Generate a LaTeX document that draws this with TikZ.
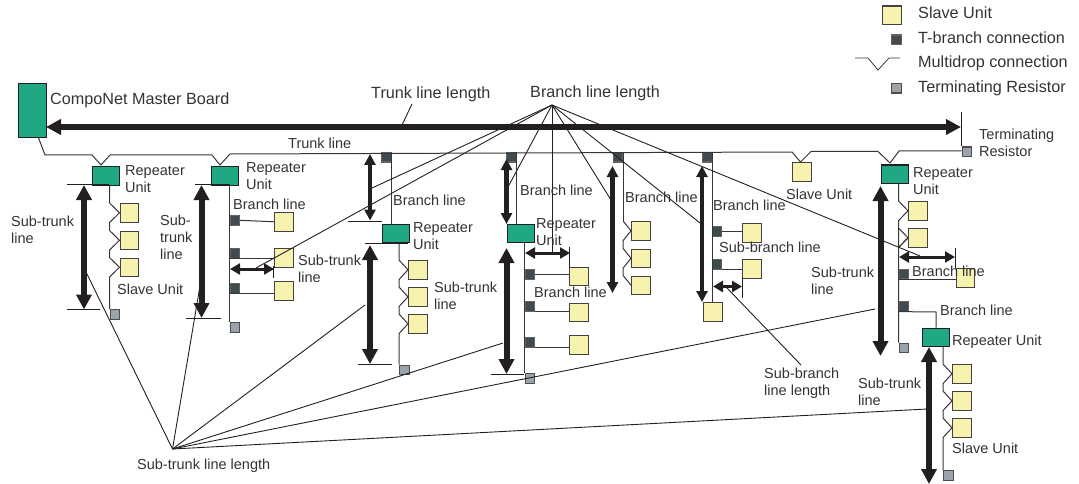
\documentclass[tikz,border=0pt]{standalone}
\usepackage{fontspec}
\setmainfont{Liberation Sans}
\usetikzlibrary{arrows.meta}
\definecolor{slavefill}{HTML}{F7F2AE}
\definecolor{repfill}{HTML}{1FA883}
\definecolor{tfill}{HTML}{3F4B4E}
\definecolor{termfill}{HTML}{9AA3AB}
\definecolor{ink}{HTML}{231F20}
\definecolor{txt}{HTML}{333333}
\tikzset{
  boxbase/.style={inner sep=0,anchor=north west,line width=1.1pt},
  slaveunit/.style={boxbase,draw=ink!85,fill=slavefill,minimum width=18.5pt,minimum height=18.5pt},
  repunit/.style={boxbase,draw=ink,fill=repfill,minimum width=27pt,minimum height=18.5pt},
  tconn/.style={boxbase,draw=ink!70,fill=tfill,minimum width=9.5pt,minimum height=9.5pt},
  termres/.style={boxbase,draw=ink!80,fill=termfill,minimum width=9.5pt,minimum height=9.5pt},
  bus/.style={draw=ink!90,line width=1pt,line join=miter},
  leader/.style={draw=ink,line width=.9pt},
  ticker/.style={draw=ink,line width=.9pt},
  lab/.style={inner sep=0,anchor=north west,align=left,text=txt,font=\fontsize{14.5}{17}\selectfont},
  labbig/.style={lab,font=\fontsize{16.2}{18}\selectfont},
  dimbig/.style={draw=ink,line width=6pt,{Triangle[length=15pt,width=15pt]}-{Triangle[length=15pt,width=15pt]}},
  dimmid/.style={draw=ink,line width=4.5pt,{Triangle[length=11pt,width=11pt]}-{Triangle[length=11pt,width=11pt]}},
  dimsmall/.style={draw=ink,line width=3pt,{Triangle[length=10pt,width=11pt]}-{Triangle[length=10pt,width=11pt]}},
}
\newcommand{\lab}[5][lab]{\node[#1] (#2) at (#3,#4-7) {\rule{0pt}{12pt}#5};}
\newcommand{\slv}[3]{\node[slaveunit] (#1) at (#2,#3) {};}
\newcommand{\rpt}[3]{\node[repunit] (#1) at (#2,#3) {};}
\newcommand{\tcn}[3]{\node[tconn] (#1) at (#2,#3) {};}
\newcommand{\trm}[3]{\node[termres] (#1) at (#2,#3) {};}
\newcommand{\dimv}[5]{\coordinate (#2a) at (#3,#4);\coordinate (#2b) at (#3,#5);\draw[#1] (#2a) -- (#2b);}
\newcommand{\dimh}[5]{\coordinate (#2a) at (#4,#3);\coordinate (#2b) at (#5,#3);\draw[#1] (#2a) -- (#2b);}
\newcommand{\tck}[5]{\coordinate (#1a) at (#2,#3);\coordinate (#1b) at (#4,#5);\draw[ticker] (#1a) -- (#1b);}
% zigzag: start, x reference, three slaves
\newcommand{\zig}[5]{\draw[bus] (#1) -- (#3.north -| #2) -- (#3.west) -- (#3.south -| #2) -- (#4.north -| #2) -- (#4.west) -- (#4.south -| #2) -- (#5.north -| #2) -- (#5.west);}
\begin{document}
\begin{tikzpicture}[x=1pt,y=-1pt]
\useasboundingbox (0,0) rectangle (1079,484);
% ---- nodes: units
\node[repunit,minimum width=27.5pt,minimum height=54pt] (MB) at (18,83) {};
\rpt{R1}{92}{166}\rpt{R2}{211}{166}\rpt{R3}{381.5}{223.5}\rpt{R4}{506.5}{223.5}\rpt{R5}{881}{164.5}\rpt{R6}{922}{327.5}
\trm{TE}{961.5}{146.5}
\slv{S1a}{119.5}{203}\slv{S1b}{119.5}{230.5}\slv{S1c}{119.5}{257.5}
\trm{TR1}{109.5}{309}
\tcn{T2a}{229.5}{215}\tcn{T2b}{229.5}{248}\tcn{T2c}{229.5}{283}
\slv{S2a}{274}{212}\slv{S2b}{274}{248}\slv{S2c}{274}{281}
\trm{TR2}{229.5}{322}
\tcn{T3}{381}{152}
\slv{S3a}{408}{260}\slv{S3b}{408}{287}\slv{S3c}{408}{314}
\trm{TR3}{399}{364.5}
\tcn{T4}{506}{152}
\tcn{T4a}{524.5}{269}\tcn{T4b}{524.5}{301}\tcn{T4c}{524.5}{337}
\slv{S4a}{569}{266.5}\slv{S4b}{569}{302.5}\slv{S4c}{569}{335}
\trm{TR4}{524.5}{373}
\tcn{T5}{612.5}{152}
\slv{S5a}{631}{221}\slv{S5b}{631}{248.5}\slv{S5c}{631}{275.5}
\tcn{T6}{702}{152}
\tcn{T6a}{711.5}{226}\tcn{T6b}{711.5}{259}
\slv{S6a}{742}{223}\slv{S6b}{742}{259}\slv{S6c}{703}{302}
\slv{SM}{792}{162}
\slv{S7a}{908}{201}\slv{S7b}{908}{228}
\tcn{T7a}{898.5}{268.5}\tcn{T7b}{898.5}{301}
\slv{S7c}{955.5}{268}
\trm{TR7}{898.5}{342.5}
\slv{S8a}{952}{364}\slv{S8b}{952}{391}\slv{S8c}{952}{418}
\trm{TR8}{943}{470}
% legend symbols
\slv{LS}{882}{5.5}
\tcn{LT}{891}{34.5}
\trm{LR}{891}{83}
% ---- connectors
\coordinate (V0a) at (45,155);\coordinate (V1b) at (101,165);\coordinate (V2b) at (220,165);
\coordinate (VMb) at (800.5,162);\coordinate (V5b) at (890,163);
\coordinate (TEl) at (961.5,151);
\draw[bus] (MB.south east) ++(-8,0) -- (V0a) -- (92,155) -- (V1b) -- (110,155) -- (212,155) -- (V2b) -- (230,154) -- (792,152) -- (VMb) -- (811,151.5) -- (878,151.5) -- (V5b) -- (899,151) -- (TEl);
\draw[bus] (T3.north east) -- (R3.north -| T3.east);
\draw[bus] (T4.north east) -- (R4.north -| T4.east);
\draw[bus] (T5.north east) -- (S5a.north -| T5.east);
\draw[bus] (T6.north east) -- (S6c.north -| T6.east);
% sub-trunks
\zig{R1.south -| TR1.west}{TR1.west}{S1a}{S1b}{S1c}
\draw[bus] (S1c.west) -- (S1c.south -| TR1.west) -- (TR1.north west);
\zig{R3.south -| TR3.west}{TR3.west}{S3a}{S3b}{S3c}
\draw[bus] (S3c.west) -- (S3c.south -| TR3.west) -- (TR3.north west);
\zig{S5a.north -| T5.east}{T5.east}{S5a}{S5b}{S5c}
\zig{R5.south -| TR7.west}{TR7.west}{S7a}{S7b}{S7b}
\draw[bus] (S7b.west) -- (S7b.south -| TR7.west) -- (TR7.north west);
\zig{R6.south -| TR8.west}{TR8.west}{S8a}{S8b}{S8c}
\draw[bus] (S8c.west) -- (S8c.south -| TR8.west) -- (TR8.north west);
\draw[bus] (R2.south -| TR2.west) -- (TR2.north west);
\draw[bus] (R4.south -| TR4.west) -- (TR4.north west);
% branches
\draw[bus] (T2a.east) -- (S2a.west);
\draw[bus] (T2b.south west) -- (S2b.west |- T2b.south);
\draw[bus] (T2c.south west) -- (S2c.west |- T2c.south);
\draw[bus] (T4a.east) -- (S4a.west |- T4a.east);
\draw[bus] (T4b.south east) -- (S4b.west |- T4b.south);
\draw[bus] (T4c.south east) -- (S4c.west |- T4c.south);
\draw[bus] (T6a.east) -- (S6a.west |- T6a.east);
\draw[bus] (T6b.south east) -- (S6b.west |- T6b.south);
\draw[bus] (T7a.south west) -- (S7c.west |- T7a.south);
\coordinate (J7) at (936,312);
\draw[bus] (T7b.south west) -- (J7) -- (J7 |- R6.north);
% ---- dimension arrows
\dimh{dimbig}{DT}{127}{46}{961}
\dimv{dimbig}{D1}{84}{185}{309.5}
\dimv{dimbig}{D2}{201.5}{185}{318}
\dimv{dimmid}{D3}{370}{154}{220.5}
\dimv{dimbig}{D3s}{370}{245}{364}
\dimv{dimmid}{D4}{506.5}{159}{224}
\dimv{dimbig}{D4s}{506.5}{248}{374}
\dimv{dimmid}{D5}{612.5}{166}{293}
\dimv{dimmid}{D6}{702}{166}{302}
\dimv{dimbig}{D7}{880.5}{186}{356}
\dimv{dimbig}{D8}{929}{347}{484}
\dimh{dimsmall}{H2}{269}{230}{274}
\dimh{dimsmall}{H4}{253}{525}{570}
\dimh{dimsmall}{H6}{286.5}{713}{742}
\dimh{dimsmall}{H7}{257}{899}{955}
% ---- ticks
\coordinate (TEt) at (961.5,112);
\draw[ticker] (TE.north west) -- (TEt);
\tck{K1t}{67}{184.5}{109}{184.5}
\tck{K1b}{67}{309}{100}{309}
\tck{K2t}{195}{184.5}{230}{184.5}
\tck{K2b}{186}{318.5}{221}{318.5}
\tck{K3a}{348}{221}{382}{221}
\tck{K3t}{365}{243}{408}{243}
\tck{K3b}{358}{364}{392}{364}
\tck{K4b}{491}{374}{524}{374}
\tck{K2h}{273.5}{266}{273.5}{278}
\tck{K4h}{569.5}{247}{569.5}{267}
\tck{K6h}{742.5}{277}{742.5}{298}
\tck{K7h}{955.5}{248}{955.5}{268}
% ---- leaders
\coordinate (AP) at (552,105);
\coordinate (AS) at (172.5,449);
\coordinate (AT) at (412,104);
\coordinate (ATb) at (402,125);
\draw[leader] (AT) -- (ATb);
\foreach \e in {{372,188},{256,268},{508,187},{552,253},{611,200},{700,223},{920,256}}
  \draw[leader] (AP) -- (\e);
\foreach \e in {{86,272},{201.5,277},{365,305},{503,343},{875,309},{927,409}}
  \draw[leader] (AS) -- (\e);
\coordinate (SBL) at (801,365);
\coordinate (SBLb) at (727,288);
\draw[leader] (SBL) -- (SBLb);
% ---- legend multidrop
\coordinate (Ma) at (855,58);\coordinate (Mb) at (900,58);
\draw[bus,line width=.8pt] (Ma) -- (868,58) -- (878,70) -- (889,58) -- (Mb);
% ---- texts
\lab[labbig]{tMB}{50}{99}{CompoNet Master Board}
\lab[labbig]{tTL}{371}{93}{Trunk line length}
\lab[labbig]{tBL}{530}{92}{Branch line length}
\lab{tTr}{288}{143}{Trunk line}
\lab[labbig]{tL1}{918}{13}{Slave Unit}
\lab[labbig]{tL2}{918}{38}{T-branch connection}
\lab[labbig]{tL3}{918}{62}{Multidrop connection}
\lab[labbig]{tL4}{918}{87}{Terminating Resistor}
\lab{tTE}{979}{134}{Terminating\\Resistor}
\lab{tR1}{125}{170}{Repeater\\Unit}
\lab{tR2}{246}{167}{Repeater\\Unit}
\lab{tST1}{11}{221}{Sub-trunk\\line}
\lab{tST2}{160}{220}{Sub-\\trunk\\line}
\lab{tSU1}{117}{289}{Slave Unit}
\lab{tB2}{233}{204}{Branch line}
\lab{tST2b}{298}{260}{Sub-trunk\\line}
\lab{tB3}{393}{200}{Branch line}
\lab{tR3}{413}{227}{Repeater\\Unit}
\lab{tST3}{434}{287}{Sub-trunk\\line}
\lab{tB4}{520}{190}{Branch line}
\lab{tR4}{536}{223}{Repeater\\Unit}
\lab{tB4b}{534}{292}{Branch line}
\lab{tB5}{625}{197}{Branch line}
\lab{tB6}{713}{205}{Branch line}
\lab{tSB}{719}{247}{Sub-branch line}
\lab{tSBL}{764}{373}{Sub-branch\\line length}
\lab{tSU6}{786}{194}{Slave Unit}
\lab{tR5}{913}{172}{Repeater\\Unit}
\lab{tST5}{811}{272}{Sub-trunk\\line}
\lab{tB7}{912}{271}{Branch line}
\lab{tB7b}{940}{310}{Branch line}
\lab{tR6}{952}{340}{Repeater Unit}
\lab{tST6}{858}{383}{Sub-trunk\\line}
\lab{tSU8}{952}{448}{Slave Unit}
\lab{tSTL}{137}{464}{Sub-trunk line length}
\end{tikzpicture}
\end{document}
